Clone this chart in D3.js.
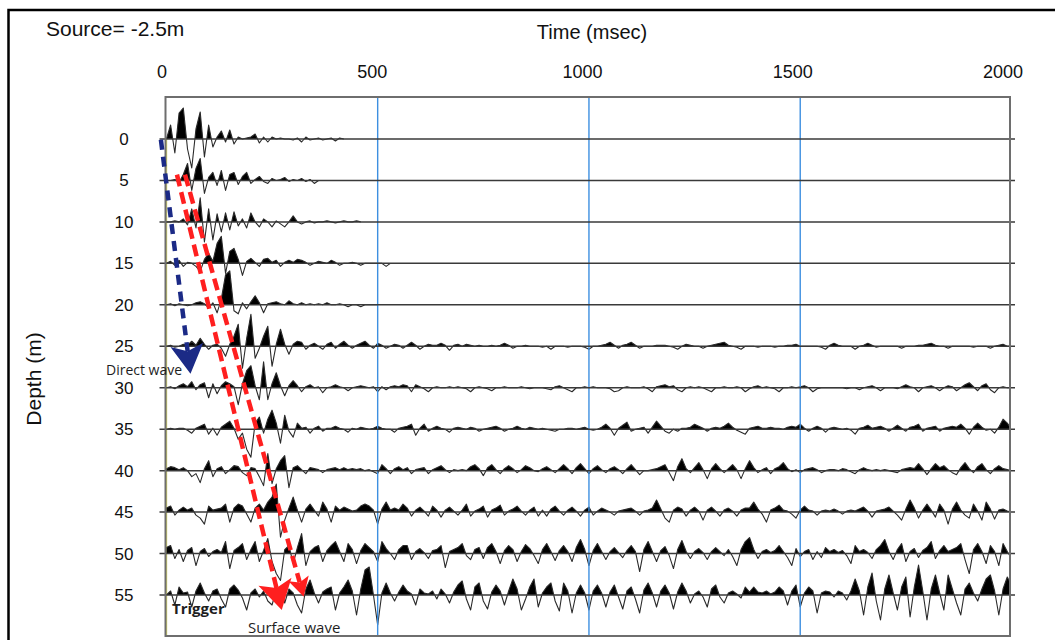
<!DOCTYPE html>
<html>
<head>
<meta charset="utf-8">
<script src="https://cdn.jsdelivr.net/npm/d3@7"></script>
<style>
  body { margin: 0; background: #fff; }
  svg { display: block; }
</style>
</head>
<body>
<svg id="chart" width="1055" height="640"></svg>
<script>
// receiver depths (m) and time axis (msec)
const depths = [0, 5, 10, 15, 20, 25, 30, 35, 40, 45, 50, 55]
const timeTicks = [0, 500, 1000, 1500, 2000]
const gridTimes = [500, 1000, 1500]
const sampleStep = 10 // msec between samples

// trace amplitudes, one value every 10 msec
const trace0 = [0,14,-14,26,31,-10,-29,10,27,-18,14,-8,2,8,-3,9,-5,2,0,1,2,5,-4,2,-3,2,0,1,0,0,-1,1,-3,2,-1,0,1,-1,0,1,-2,1,0]
const trace5 = [0,0,1,-2,6,17,-10,12,22,-13,3,8,-5,10,-10,6,8,-4,4,8,-3,1,4,-1,-3,2,0,1,3,-1,1,0,2,-1,1,-3,0]
const trace10 = [0,0,1,0,3,-3,13,-6,24,-20,13,-18,8,-10,9,-8,10,-4,3,-6,9,0,-5,3,0,-5,1,-2,-5,0,6,0,-2,0,1,-1,0,0,1,0,-1,0,1,0,0,1,0]
const trace15 = [0,2,-2,3,-3,1,0,-3,-8,4,10,2,20,27,-10,12,15,4,-12,2,5,1,-3,4,5,1,3,-3,1,3,1,4,3,1,-2,0,2,1,0,3,1,-2,0,0,1,0,-2,0,0,0,0,0,-3,0]
const trace20 = [0,1,-1,1,0,-1,0,2,3,1,-3,2,-8,6,30,34,-6,-9,2,-4,3,9,2,-8,1,2,3,1,0,4,1,0,2,0,1,0,1,0,2,0,0,1,0,-2,0,0,-2,0,0,0,0]
const trace25 = [
  0,1,-1,0,2,1,5,1,8,2, -3,1,2,-2,-10,2,10,22,-22,8, 32,-12,-2,10,20,-20,2,17,2,-8, 2,5,4,-3,1,3,0,-3,2,4,
  -2,2,5,1,-2,1,3,5,1,-2, 3,1,-2,0,2,1,-2,1,4,1, -3,0,2,1,1,3,1,-4,1,2, 0,2,1,0,1,0,0,1,0,1,
  3,1,-2,0,0,1,0,0,0,-1, 0,-3,0,0,0,-1,0,0,0,-1, -3,0,0,1,2,4,1,-2,1,2, 4,1,-2,0,0,0,1,1,1,0,
  -1,-3,0,2,1,0,0,-2,0,1, 2,3,4,1,0,-1,-3,0,0,0, -1,0,0,0,-1,0,0,1,1,2, 0,0,0,0,0,-1,-3,1,3,1,
  0,0,0,-3,0,1,3,1,-1,0, 0,0,0,0,-2,0,0,0,1,1, 2,3,1,0,0,-2,0,0,0,0, 0,-1,0,0,0,-2,0,1,2,0,0]
const trace30 = [
  0,1,-1,2,4,1,6,-2,3,5, -10,4,-6,2,6,4,1,-17,4,17, 22,2,-12,26,-12,4,15,2,-8,2, 7,2,-4,1,3,0,1,-5,0,1,
  3,1,0,-3,0,1,2,1,0,1, -4,1,-2,1,2,1,3,2,-4,3, 1,-1,-4,0,1,0,0,1,0,1, 0,-1,-4,0,1,0,-1,-3,0,0,
  1,0,0,0,1,0,-1,0,0,0, -1,-2,1,2,0,-2,-4,0,0,1, 0,1,0,0,0,-1,-4,-3,0,1, 0,0,0,1,-1,-4,1,2,3,1,
  2,-2,-4,0,1,0,1,0,-2,-4, 0,0,1,0,0,1,0,-4,-1,1, 2,0,1,0,-1,-4,0,0,1,0, 1,2,0,-4,-1,0,0,0,0,0,
  0,-1,0,0,-2,0,1,2,0,-3, 0,0,0,-1,1,3,1,0,-4,0, 1,2,0,-3,0,2,1,-3,0,3, 5,1,-3,2,4,-2,-5,0,1,0,0]
const trace35 = [
  0,1,0,1,1,-1,-4,1,3,5, -5,1,-6,2,5,8,1,-10,-4,-20, -28,6,12,-4,10,19,6,-14,14,-2, -8,6,1,2,-4,1,3,-2,1,1,
  3,1,0,-3,1,0,2,1,0,1, 3,1,0,0,-3,1,2,3,5,-6, 1,5,-2,1,3,1,0,-3,1,2, 1,0,2,1,-2,0,1,2,3,1,
  -2,0,1,3,1,0,2,1,0,1, 0,-1,-2,0,0,1,1,0,1,2, 0,-1,0,2,5,1,-6,1,4,7, -2,0,1,2,-4,2,8,3,-2,-4,
  0,-2,1,1,2,5,3,1,-2,1, 2,1,3,6,2,-1,-3,-5,1,2, 3,1,1,2,1,1,0,2,3,2, 5,1,-2,1,3,1,-3,1,2,1,
  0,1,-1,-5,1,2,4,1,2,3, 1,-2,1,4,1,-2,2,3,5,-2, 1,2,3,-2,1,2,3,2,5,1, -5,2,6,2,-1,0,-4,2,10,6,0]
const trace40 = [
  2,4,3,1,3,0,-6,-3,-12,2, 10,-6,2,4,-3,1,5,4,-2,-5, 3,2,-6,-15,17,-13,2,10,15,-17, 3,5,1,-3,3,2,1,-2,1,2,
  3,1,3,1,2,1,2,0,1,-1, -3,6,2,-3,2,4,1,3,-3,1, 2,3,-3,1,3,5,1,-2,1,0, 1,0,4,6,2,-5,3,6,1,-3,
  2,5,2,-2,1,5,3,0,-1,2, 4,1,-2,2,6,2,-3,3,7,2, -3,2,5,1,-2,2,4,1,-3,2, 6,1,-4,0,0,1,2,4,6,-2,
  -10,4,12,2,-2,3,8,1,-8,2, 7,2,-2,2,6,1,-8,2,10,3, -2,1,3,-3,2,4,8,2,-1,1, -2,1,2,3,1,-2,0,1,1,0,
  2,1,-1,-3,1,3,1,0,1,0, 1,0,-1,-2,1,2,3,2,7,2, -4,2,7,3,5,1,-2,-4,3,8, 2,-2,4,7,1,-3,2,5,2,1,0]
const trace45 = [
  4,6,-3,2,5,2,4,-3,-6,-12, 6,2,3,4,8,-10,4,8,6,-2, -10,4,8,2,10,15,28,-25,-8,4, 15,2,-10,3,8,2,-4,10,3,-10,
  6,2,5,3,1,2,6,8,6,2, -12,3,10,2,4,2,8,4,-4,2, 5,1,-4,6,2,-5,2,5,1,-3, 2,8,-4,1,3,6,-5,2,4,7,
  -3,1,3,6,1,-3,2,5,-4,2, -4,3,6,1,-3,2,5,1,-4,2, 5,-3,1,4,2,0,-3,1,2,3, 4,1,-3,1,2,4,12,3,-6,-10,
  2,5,3,-4,2,5,1,-8,2,5, 1,-4,2,4,1,-4,2,4,4,10, 3,-2,-10,2,4,7,2,1,-2,-6, 2,6,2,1,-3,1,2,1,3,1,
  -2,1,2,1,3,5,1,-5,1,2, 3,5,1,-3,-8,3,12,4,-6,2, 8,2,-5,8,2,-12,3,10,2,-3, -6,8,1,-8,10,3,-7,2,3,1,0]
const trace50 = [
  6,8,-5,4,-8,3,6,-12,2,5, -3,2,4,1,12,-15,3,6,10,-6, 4,12,-8,3,15,-8,-20,-27,4,8, -10,6,20,-12,2,6,8,-8,3,8,
  12,2,-8,10,4,-10,3,10,6,2, -8,12,5,0,-6,4,8,8,-6,2, 5,1,-5,3,4,8,-14,2,4,6, 10,-2,-6,4,6,-5,6,10,2,-10,
  3,8,4,-8,2,9,5,-2,-10,4, 10,2,-7,3,8,2,-8,6,14,4, -12,3,10,2,-6,2,6,1,-4,3, 8,2,-18,4,12,2,-8,3,7,-2,
  -15,4,13,2,-5,2,5,1,-6,2, 6,2,-2,4,-3,-12,4,12,16,4, -5,2,4,1,3,8,2,-4,-12,5, -3,2,4,-6,2,-4,6,2,4,1,
  3,-2,-10,8,2,4,1,-5,4,8, 14,2,-6,4,10,-8,2,5,-4,3, 6,12,-5,3,8,2,4,6,10,-6, -20,4,10,2,-10,8,2,-12,10,2,-5]
const trace55 = [
  0,4,-10,8,2,3,-12,4,12,2, -6,4,6,-4,-12,6,10,5,-3,-15, 2,6,-2,4,-6,-10,5,8,-8,6, 2,-10,-18,6,15,2,-8,3,6,8,
  -15,2,8,15,4,-20,6,25,28,0, -30,2,12,2,-6,3,10,4,1,-10, 6,2,1,4,-4,6,1,-8,3,10, 14,-4,-15,8,12,-6,-14,3,10,4,
  -10,4,16,6,-15,-4,8,16,-12,2, 8,12,-6,-16,12,4,-18,2,10,2, -15,4,10,2,-12,3,10,-2,-14,4, 8,-4,-18,5,12,2,-12,4,10,2,
  -14,3,12,4,-8,1,4,-2,-12,6, 10,-2,-8,2,4,1,-3,8,3,8, 3,2,4,1,3,8,4,-10,4,10, -12,2,8,4,-18,2,4,3,-2,4,
  2,-5,4,16,4,-20,8,22,-6,-25, 6,20,2,-15,8,18,-22,8,30,4, -25,6,20,2,-15,20,6,-8,-20,6, 12,2,-6,6,16,20,4,-20,6,18,10]
const traces = [trace0, trace5, trace10, trace15, trace20, trace25, trace30, trace35, trace40, trace45, trace50, trace55]

// annotation arrows, [time msec, depth m]
const arrows = [
  {from: [-13, 0.1], to: [57, 28.3], color: "#1b2a86", len: 29, half: 16.5, dash: "10 7"},
  {from: [25, 4.3], to: [273, 56.8], color: "#ff1f1f", len: 29, half: 17, dash: "12 6"},
  {from: [44, 4.3], to: [325, 55.2], color: "#ff1f1f", len: 19, half: 10.5, dash: "12 6"}
]

const svg = d3.select("#chart")
const plotLeft = 165.5, plotTop = 97, plotRight = 1010, plotBottom = 636

const x = d3.scaleLinear().domain([0, 2000]).range([166.4, 1011.5])
const xLabel = d3.scaleLinear().domain([0, 2000]).range([162, 1003])
const y = d3.scaleLinear().domain([0, 55]).range([139, 595])
const amp = d3.scaleLinear().domain([0, 10]).range([0, -10])

// outer frame
svg.append("rect").attr("x", 8.5).attr("y", 10).attr("width", 1100).attr("height", 700)
  .attr("fill", "none").attr("stroke", "#000").attr("stroke-width", 2.5)

// titles
svg.append("text").attr("x", 46).attr("y", 36).text("Source= -2.5m")
  .style("font-family", "Liberation Sans, Arial, sans-serif").style("font-size", "21px").attr("fill", "#111")
svg.append("text").attr("x", 592).attr("y", 39).attr("text-anchor", "middle").text("Time (msec)")
  .style("font-family", "Liberation Sans, Arial, sans-serif").style("font-size", "20px").attr("fill", "#111")
svg.append("text").attr("transform", "translate(41,379) rotate(-90)").attr("text-anchor", "middle").text("Depth (m)")
  .style("font-family", "Liberation Sans, Arial, sans-serif").style("font-size", "21px").attr("fill", "#111")

// top time labels
svg.selectAll(".tlab").data(timeTicks).enter().append("text")
  .attr("class", "tlab").attr("x", d => xLabel(d)).attr("y", 78).attr("text-anchor", "middle")
  .style("font-family", "Liberation Sans, Arial, sans-serif").style("font-size", "18px").attr("fill", "#111")
  .text(d => d)

// depth labels
svg.selectAll(".dlab").data(depths).enter().append("text")
  .attr("class", "dlab").attr("x", 124).attr("y", d => y(d) + 6).attr("text-anchor", "middle")
  .style("font-family", "Liberation Sans, Arial, sans-serif").style("font-size", "17px").attr("fill", "#111")
  .text(d => d)

const defs = svg.append("defs")
defs.append("clipPath").attr("id", "plotclip").append("rect")
  .attr("x", plotLeft).attr("y", 0).attr("width", plotRight - plotLeft).attr("height", 640)

// trigger line at t=0
svg.append("line").attr("x1", x(0)).attr("x2", x(0)).attr("y1", y(0)).attr("y2", plotBottom)
  .attr("stroke", "#d9d96a").attr("stroke-width", 1.6)

const traceG = svg.append("g").attr("clip-path", "url(#plotclip)")

traces.forEach((vals, k) => {
  const base = y(depths[k])
  defs.append("clipPath").attr("id", "pos" + k).append("rect")
    .attr("x", plotLeft).attr("y", base - 80).attr("width", plotRight - plotLeft).attr("height", 80)
  const area = d3.area().x((v, i) => x(i * sampleStep)).y0(base).y1(v => base + amp(v))
  const line = d3.line().x((v, i) => x(i * sampleStep)).y(v => base + amp(v))
  traceG.append("path").attr("d", area(vals)).attr("fill", "#000").attr("clip-path", `url(#pos${k})`)
  traceG.append("path").attr("d", line(vals)).attr("fill", "none")
    .attr("stroke", "#2a2a2a").attr("stroke-width", 1.1).attr("stroke-linejoin", "round")
})

// blue time grid
svg.selectAll(".grid").data(gridTimes).enter().append("line")
  .attr("class", "grid").attr("x1", d => x(d)).attr("x2", d => x(d)).attr("y1", plotTop).attr("y2", plotBottom)
  .attr("stroke", "#3d8fe0").attr("stroke-width", 1.4)

// trace baselines, running a little past the plot frame
svg.selectAll(".base").data(depths).enter().append("line")
  .attr("class", "base").attr("x1", plotLeft - 6).attr("x2", plotRight + 5)
  .attr("y1", d => y(d)).attr("y2", d => y(d))
  .attr("stroke", "#3a3a3a").attr("stroke-width", 1.5)

// plot frame
svg.append("rect").attr("x", plotLeft).attr("y", plotTop)
  .attr("width", plotRight - plotLeft).attr("height", plotBottom - plotTop)
  .attr("fill", "none").attr("stroke", "#6e6e6e").attr("stroke-width", 2)

// arrows
arrows.forEach(a => {
  const x0 = x(a.from[0]), y0 = y(a.from[1])
  const x1 = x(a.to[0]), y1 = y(a.to[1])
  const L = Math.hypot(x1 - x0, y1 - y0)
  const ux = (x1 - x0) / L, uy = (y1 - y0) / L
  const nx = -uy, ny = ux
  const bx = x1 - ux * a.len, by = y1 - uy * a.len
  const notchX = x1 - ux * a.len * 0.78, notchY = y1 - uy * a.len * 0.78
  svg.append("line").attr("x1", x0).attr("y1", y0).attr("x2", notchX).attr("y2", notchY)
    .attr("stroke", a.color).attr("stroke-width", 4.5).attr("stroke-dasharray", a.dash)
  svg.append("path")
    .attr("d", `M${x1},${y1}L${bx + nx * a.half},${by + ny * a.half}L${notchX},${notchY}L${bx - nx * a.half},${by - ny * a.half}Z`)
    .attr("fill", a.color)
})

// annotation labels
const noteFont = "Open Sans, Noto Sans, sans-serif"
svg.append("text").attr("x", 106).attr("y", 375).text("Direct wave")
  .style("font-family", noteFont).style("font-size", "14px").attr("fill", "#1e1e1e")
svg.append("text").attr("x", 172).attr("y", 614).text("Trigger")
  .style("font-family", noteFont).style("font-size", "15px").style("font-weight", "bold").attr("fill", "#1e1e1e")
svg.append("text").attr("x", 248).attr("y", 633).text("Surface wave")
  .style("font-family", noteFont).style("font-size", "15px").attr("fill", "#1e1e1e")
</script>
</body>
</html>
